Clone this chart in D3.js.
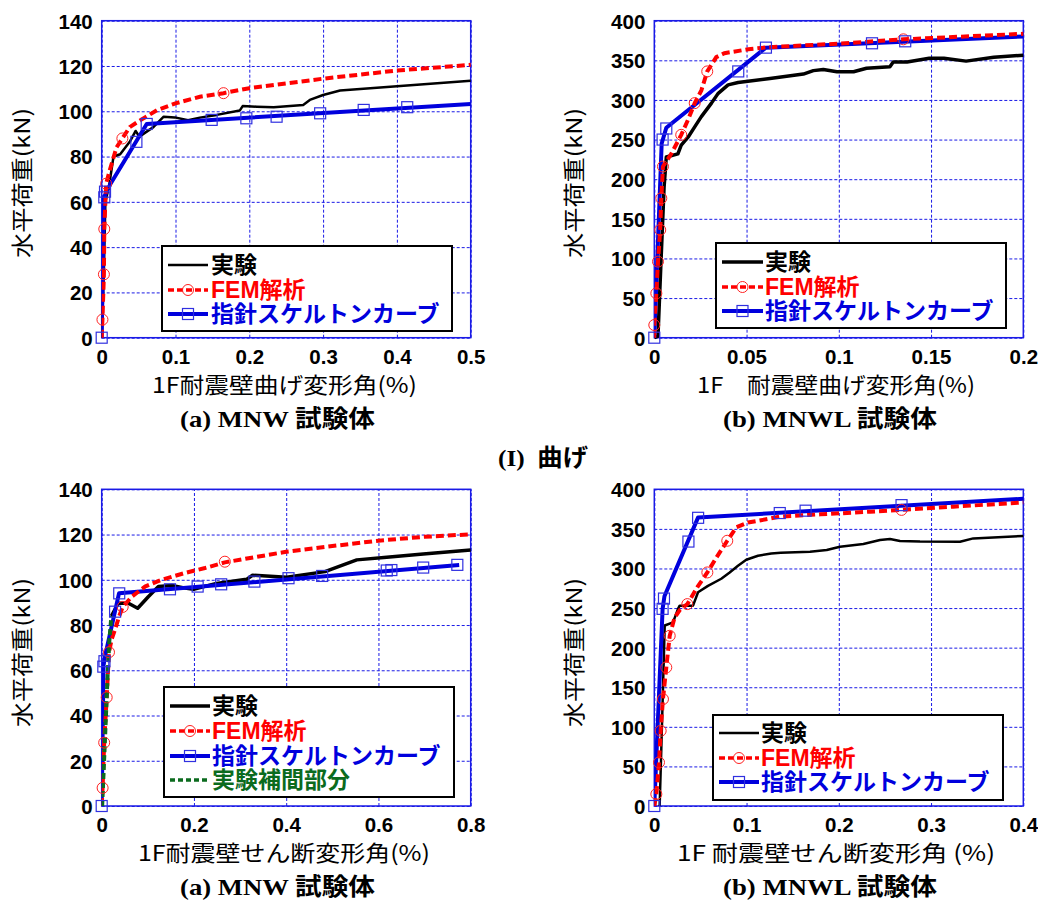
<!DOCTYPE html>
<html><head><meta charset="utf-8">
<script src="https://cdn.jsdelivr.net/npm/d3@7/dist/d3.min.js"></script>
<style>
body{margin:0;background:#fff;}
svg{display:block;}
</style></head>
<body>
<svg id="chart" width="1038" height="902"></svg>
<script>
// ---------- DATA ----------
// Panel (I)(a) MNW bending
const aBendExp = [[0,0],[0.003,30],[0.005,60],[0.01,67],[0.016,80],[0.025,81],[0.038,86.5],[0.046,91.3],[0.051,88.8],[0.07,93],[0.084,97.6],[0.099,97.3],[0.117,96],[0.133,97.2],[0.156,98.4],[0.187,100.3],[0.191,102.3],[0.21,102],[0.233,101.8],[0.273,102.8],[0.282,105],[0.3,107.2],[0.323,109.2],[0.5,113.5]];
const aBendFem = [[0,0],[0.001,8],[0.003,28],[0.0035,48],[0.006,68],[0.011,74],[0.02,84],[0.028,88],[0.038,93],[0.052,96],[0.075,100.5],[0.1,103.5],[0.133,106.4],[0.165,108],[0.2,110.2],[0.3,114.4],[0.4,118],[0.5,120.5]];
const aBendFemMk = [[0.001,8],[0.003,28],[0.0035,48],[0.006,68],[0.028,88],[0.165,108]];
const aBendSkel = [[0,0],[0.003,62],[0.011,67.4],[0.061,94.4],[0.5,103.2]];
const aBendSkelMk = [[0,0],[0.0035,62],[0.0045,64.5],[0.047,86.5],[0.061,94.4],[0.149,96.2],[0.196,96.9],[0.237,97.6],[0.296,99.1],[0.355,100.6],[0.414,101.8]];

// Panel (I)(b) MNWL bending
const bBendExp = [[0,0],[0.002,2],[0.0038,106],[0.0053,190],[0.0065,228],[0.0128,232],[0.0146,243],[0.0183,253],[0.0219,266],[0.0255,279],[0.031,296],[0.0345,308],[0.04,319],[0.0454,322],[0.0627,327],[0.0808,332.7],[0.0862,337],[0.0916,338.5],[0.099,335.6],[0.108,335.6],[0.115,340],[0.1277,342],[0.1295,348],[0.137,348],[0.149,352.5],[0.157,352.5],[0.169,349],[0.184,354],[0.2,356.5]];
const bBendFem = [[0,0],[0,16],[0.0011,56],[0.002,96],[0.0032,136],[0.0038,176],[0.0047,216],[0.0092,232],[0.0146,256],[0.0183,275],[0.0219,296],[0.0255,312],[0.0287,336],[0.0336,354],[0.038,359],[0.051,364],[0.0616,366.5],[0.1,371],[0.135,376.5],[0.2,383.5]];
const bBendFemMk = [[0,16],[0.0011,56],[0.002,96],[0.0032,136],[0.0038,176],[0.0047,216],[0.0146,256],[0.0219,296],[0.0287,336],[0.135,376.5]];
const bBendSkel = [[0,0],[0.004,245],[0.0065,265],[0.0605,366],[0.2,380]];
const bBendSkelMk = [[0,0],[0.0045,250],[0.0065,264],[0.0455,336],[0.0605,366],[0.118,371.5],[0.136,374]];

// Panel (II)(a) MNW shear
const aShearExp = [[0.021,84],[0.036,89.6],[0.058,89.6],[0.078,87.4],[0.101,92.5],[0.123,97],[0.152,97.5],[0.184,96.2],[0.199,95.8],[0.249,98.4],[0.314,100.2],[0.327,102],[0.401,101.1],[0.484,103.6],[0.553,108.8],[0.618,110],[0.697,111.4],[0.8,113.2]];
const aShearInterp = [[0.001,0],[0.007,29],[0.013,58.7],[0.0166,73],[0.021,84]];
const aShearFem = [[0,0],[0.002,8],[0.0054,28],[0.0108,48],[0.0158,68],[0.022,74],[0.029,78],[0.038,84],[0.0455,88],[0.065,92.5],[0.094,97],[0.13,100],[0.18,103],[0.224,105.2],[0.267,107.7],[0.4,112.4],[0.5,114.9],[0.6,117.3],[0.7,119],[0.8,120.1]];
const aShearFemMk = [[0.002,8],[0.0054,28],[0.0108,48],[0.0158,68],[0.0455,88],[0.267,108]];
const aShearSkel = [[0,0],[0.004,62],[0.007,66],[0.0375,94],[0.775,106.5]];
const aShearSkelMk = [[0,0],[0.0035,61.6],[0.006,64],[0.029,85.9],[0.038,94],[0.148,95.8],[0.208,97],[0.259,98],[0.331,99.2],[0.405,100.7],[0.478,101.7],[0.618,104.1],[0.628,104.3],[0.697,105.4],[0.771,106.6]];

// Panel (II)(b) MNWL shear
const bShearExp = [[0.0058,0],[0.0076,72],[0.0094,148],[0.0113,228],[0.0203,232],[0.0257,249],[0.0275,253],[0.042,253],[0.0474,270],[0.0582,278],[0.0726,287],[0.0817,295],[0.0907,303.5],[0.0997,311],[0.1124,316],[0.1268,319],[0.137,320],[0.1688,321.2],[0.1869,323.3],[0.2013,327.5],[0.2266,331],[0.2447,336],[0.2555,337.2],[0.2663,334.7],[0.288,334],[0.3314,333.8],[0.3458,338],[0.4,341]];
const bShearFem = [[0,0],[0.0022,15],[0.0051,55],[0.0069,95],[0.0094,135],[0.013,175],[0.0167,215],[0.022,238],[0.028,248],[0.0358,255],[0.047,277],[0.0575,295],[0.068,315],[0.0791,335],[0.089,352],[0.1016,358],[0.123,362.5],[0.136,365.4],[0.18,368.4],[0.234,371.7],[0.268,374],[0.324,378],[0.4,383.5]];
const bShearFemMk = [[0.0022,15],[0.0051,55],[0.0069,95],[0.0094,135],[0.013,175],[0.0167,215],[0.0358,255],[0.0575,295],[0.0791,335],[0.268,374]];
const bShearSkel = [[0,0],[0.009,249],[0.011,265],[0.0475,364.5],[0.4,388]];
const bShearSkelMk = [[0,0],[0.009,249],[0.0105,262],[0.037,334],[0.0475,364],[0.136,370],[0.164,373],[0.268,380]];

const ticksX1 = [0,0.1,0.2,0.3,0.4,0.5];
const ticksX2 = [0,0.05,0.1,0.15,0.2];
const ticksX3 = [0,0.2,0.4,0.6,0.8];
const ticksX4 = [0,0.1,0.2,0.3,0.4];
const ticksY140 = [0,20,40,60,80,100,120,140];
const ticksY400 = [0,50,100,150,200,250,300,350,400];

const legendNames = ["実験","FEM解析","指針スケルトンカーブ","実験補間部分"];
const yLabel = "水平荷重(kN)";
const xLabels = ["1F耐震壁曲げ変形角(%)","1F\u3000耐震壁曲げ変形角(%)","1F耐震壁せん断変形角(%)","1F 耐震壁せん断変形角 (%)"];
const subTitles = ["(a) MNW 試験体","(b) MNWL 試験体"];
const groupTitle = "(I)  曲げ";

// ---------- DRAW ----------
const svg = d3.select("#chart");
const SANS = "'Liberation Sans','Noto Sans CJK JP',Arial,sans-serif";
const CJK = "'Noto Sans CJK JP','Liberation Sans',sans-serif";
const SERIF = "'Liberation Serif','Noto Sans CJK JP',serif";
const GRID = "#1a1ae6";
let clipId = 0;

function panel(cfg){
  const {x0,x1,y0,y1} = cfg;
  const xs = d3.scaleLinear().domain([0, cfg.xmax]).range([x0,x1]);
  const ys = d3.scaleLinear().domain([0, cfg.ymax]).range([y1,y0]);
  const g = svg.append("g");
  // grid
  const gx = g.append("g").attr("transform",`translate(0,${y1})`)
    .call(d3.axisBottom(xs).tickValues(cfg.xt).tickSize(-(y1-y0)).tickFormat(""));
  const gy = g.append("g").attr("transform",`translate(${x0},0)`)
    .call(d3.axisLeft(ys).tickValues(cfg.yt).tickSize(-(x1-x0)).tickFormat(""));
  [gx,gy].forEach(a=>{
    a.select(".domain").remove();
    a.selectAll("line").attr("stroke",GRID).attr("stroke-width",1).attr("stroke-dasharray","3,2");
  });
  g.append("rect").attr("x",x0).attr("y",y0).attr("width",x1-x0).attr("height",y1-y0)
    .attr("fill","none").attr("stroke",GRID).attr("stroke-width",1.5);
  // tick labels
  const lx = g.append("g").attr("transform",`translate(0,${y1+26})`)
    .call(d3.axisBottom(xs).tickValues(cfg.xt).tickSize(0).tickPadding(0).tickFormat(d=>String(d)));
  lx.select(".domain").remove();
  lx.selectAll("text").attr("font-family",SANS).attr("font-weight","bold").attr("font-size",20.5).attr("fill","#000").attr("dy","0");
  const ly = g.append("g").attr("transform",`translate(${x0-9},0)`)
    .call(d3.axisLeft(ys).tickValues(cfg.yt).tickSize(0).tickPadding(0).tickFormat(d=>String(d)));
  ly.select(".domain").remove();
  ly.selectAll("text").attr("font-family",SANS).attr("font-weight","bold").attr("font-size",20.5).attr("fill","#000").attr("dy","0.36em");

  // clip
  const cid = "clip"+(clipId++);
  svg.append("clipPath").attr("id",cid).append("rect").attr("x",x0).attr("y",y0-4).attr("width",x1-x0+2).attr("height",y1-y0+8);
  const plot = g.append("g").attr("clip-path",`url(#${cid})`);
  const line = d3.line().x(d=>xs(d[0])).y(d=>ys(d[1]));

  plot.append("path").attr("d",line(cfg.exp)).attr("fill","none").attr("stroke","#000").attr("stroke-width",cfg.expW).attr("stroke-linejoin","round");
  plot.append("path").attr("d",line(cfg.skel)).attr("fill","none").attr("stroke","#0000dd").attr("stroke-width",4).attr("stroke-linejoin","round");
  plot.append("path").attr("d",line(cfg.fem)).attr("fill","none").attr("stroke","#ff0000").attr("stroke-width",4).attr("stroke-dasharray","8,4");
  if(cfg.interp){
    plot.append("path").attr("d",line(cfg.interp)).attr("fill","none").attr("stroke","#0b6b1e").attr("stroke-width",4).attr("stroke-dasharray","6,3");
  }
  g.selectAll(null).data(cfg.femMk).join("circle")
    .attr("cx",d=>xs(d[0])).attr("cy",d=>ys(d[1])).attr("r",5.5)
    .attr("fill","none").attr("stroke","#ff2020").attr("stroke-width",1);
  g.selectAll(null).data(cfg.skelMk).join("rect")
    .attr("x",d=>xs(d[0])-5.5).attr("y",d=>ys(d[1])-5.5).attr("width",11).attr("height",11)
    .attr("fill","none").attr("stroke","#3030e0").attr("stroke-width",1.2);

  // legend
  const L = cfg.leg;
  const lg = g.append("g");
  lg.append("rect").attr("x",L.x).attr("y",L.y).attr("width",L.w).attr("height",L.h)
    .attr("fill","#fff").attr("stroke","#000").attr("stroke-width",2);
  const items = [
    {name:legendNames[0], col:"#000", tcol:"#000", w:cfg.expW, dash:null, mk:null},
    {name:legendNames[1], col:"#ff0000", tcol:"#ff0000", w:3.5, dash:"6,3", mk:"c"},
    {name:legendNames[2], col:"#0000dd", tcol:"#0000dd", w:4, dash:null, mk:"s"}
  ];
  if(cfg.interp) items.push({name:legendNames[3], col:"#0b6b1e", tcol:"#0b6b1e", w:3.5, dash:"5,3", mk:null});
  items.forEach((it,i)=>{
    const cy = L.rows[i];
    const ln = lg.append("line").attr("x1",L.lx0).attr("x2",L.lx1).attr("y1",cy).attr("y2",cy)
      .attr("stroke",it.col).attr("stroke-width",it.w);
    if(it.dash) ln.attr("stroke-dasharray",it.dash);
    const mx=(L.lx0+L.lx1)/2;
    if(it.mk==="c") lg.append("circle").attr("cx",mx).attr("cy",cy).attr("r",5.5).attr("fill","none").attr("stroke","#ff2020").attr("stroke-width",1);
    if(it.mk==="s") lg.append("rect").attr("x",mx-5.5).attr("y",cy-5.5).attr("width",11).attr("height",11).attr("fill","none").attr("stroke","#3030e0").attr("stroke-width",1.2);
    lg.append("text").attr("x",L.tx).attr("y",cy).attr("dy","0.36em").text(it.name)
      .attr("font-family",SANS).attr("font-weight","bold").attr("font-size",23).attr("fill",it.tcol);
  });

  // axis labels (spans matched to the reference with textLength)
  g.append("text").attr("x",cfg.xl[0]).attr("y",y1+55)
    .attr("textLength",cfg.xl[1]-cfg.xl[0]).attr("lengthAdjust","spacingAndGlyphs")
    .attr("font-family",CJK).attr("font-size",22).attr("fill","#000").text(cfg.xlabel);
  g.append("text").attr("transform",`translate(${cfg.ylx},${cfg.yl[1]}) rotate(-90)`)
    .attr("dy","0.36em").attr("textLength",cfg.yl[1]-cfg.yl[0]).attr("lengthAdjust","spacingAndGlyphs")
    .attr("font-family",CJK).attr("font-size",22).attr("fill","#000").text(yLabel);
  g.append("text").attr("x",cfg.st[0]).attr("y",y1+89)
    .attr("textLength",cfg.st[1]-cfg.st[0]).attr("lengthAdjust","spacingAndGlyphs")
    .attr("font-family",SERIF).attr("font-weight","bold").attr("font-size",24).attr("fill","#000").text(cfg.sub);
}

panel({x0:101.7,x1:470.7,y0:20.7,y1:337.7,xmax:0.5,ymax:140,xt:ticksX1,yt:ticksY140,
  exp:aBendExp,expW:2.5,fem:aBendFem,femMk:aBendFemMk,skel:aBendSkel,skelMk:aBendSkelMk,
  leg:{x:162,y:246,w:290,h:85,rows:[265,290,314],lx0:168,lx1:208,tx:211},
  xlabel:xLabels[0],xl:[152,417],ylx:22,yl:[108,258],st:[180,375],sub:subTitles[0]});
panel({x0:654.3,x1:1023.3,y0:20.7,y1:337.7,xmax:0.2,ymax:400,xt:ticksX2,yt:ticksY400,
  exp:bBendExp,expW:3.5,fem:bBendFem,femMk:bBendFemMk,skel:bBendSkel,skelMk:bBendSkelMk,
  leg:{x:716,y:243,w:290,h:85,rows:[262,287,311],lx0:722,lx1:763,tx:765},
  xlabel:xLabels[1],xl:[697,975],ylx:574,yl:[108,258],st:[723,937],sub:subTitles[1]});
panel({x0:101.7,x1:470.7,y0:489.3,y1:806,xmax:0.8,ymax:140,xt:ticksX3,yt:ticksY140,
  exp:aShearExp,expW:3.5,fem:aShearFem,femMk:aShearFemMk,skel:aShearSkel,skelMk:aShearSkelMk,interp:aShearInterp,
  leg:{x:164,y:687,w:290,h:110,rows:[706,731,756,780],lx0:170,lx1:210,tx:212},
  xlabel:xLabels[2],xl:[138,430],ylx:22,yl:[578,727],st:[180,375],sub:subTitles[0]});
panel({x0:654.3,x1:1023.3,y0:489.3,y1:806,xmax:0.4,ymax:400,xt:ticksX4,yt:ticksY400,
  exp:bShearExp,expW:2.5,fem:bShearFem,femMk:bShearFemMk,skel:bShearSkel,skelMk:bShearSkelMk,
  leg:{x:713,y:715,w:290,h:85,rows:[733,758,782],lx0:719,lx1:759,tx:761},
  xlabel:xLabels[3],xl:[677,995],ylx:574,yl:[578,727],st:[723,937],sub:subTitles[1]});

svg.append("text").attr("x",498).attr("y",466).attr("textLength",90).attr("lengthAdjust","spacingAndGlyphs")
  .attr("font-family",SERIF).attr("font-weight","bold").attr("font-size",24).attr("fill","#000")
  .attr("xml:space","preserve").text(groupTitle);
</script>
</body></html>
